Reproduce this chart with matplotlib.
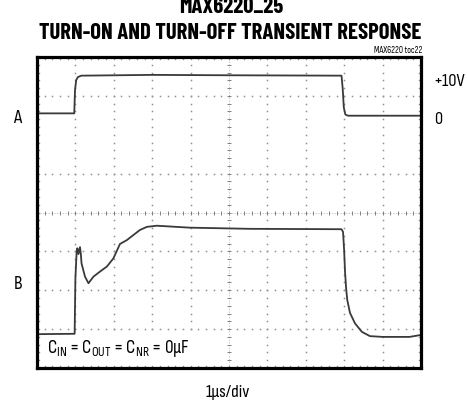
import numpy as np
import matplotlib
matplotlib.use("Agg")
import matplotlib.pyplot as plt
from matplotlib import font_manager
from matplotlib.font_manager import FontProperties
from matplotlib.textpath import TextPath

# ---- data (time in µs = divisions, level in screen divisions 0..8) ----
tA = [0.0, 0.97, 0.99, 1.02, 1.06, 1.15, 3.0, 5.0, 7.93, 7.96, 7.99, 8.03, 8.10, 10.0]
vA = [6.55, 6.55, 7.15, 7.40, 7.48, 7.52, 7.54, 7.53, 7.52, 7.20, 6.70, 6.52, 6.49, 6.49]

tB = [0.0, 0.98, 1.00, 1.03, 1.05, 1.08, 1.12, 1.14, 1.16, 1.25, 1.34, 1.47, 1.64,
      1.82, 1.99, 2.16, 2.34, 2.68, 2.86, 3.12, 3.98, 5.55, 7.93, 7.97, 8.00,
      8.02, 8.05, 8.08, 8.15, 8.28, 8.46, 8.67, 9.0, 9.7, 10.0]
vB = [0.87, 0.88, 2.30, 2.95, 3.08, 2.93, 3.11, 2.95, 2.69, 2.35, 2.18, 2.35, 2.48,
      2.61, 2.82, 3.19, 3.29, 3.55, 3.63, 3.66, 3.61, 3.58, 3.57, 3.50, 3.00,
      2.50, 2.05, 1.75, 1.42, 1.15, 0.93, 0.82, 0.80, 0.80, 0.85]

title_top = "MAX6220_25"
title = "TURN-ON AND TURN-OFF TRANSIENT RESPONSE"
toc = "MAX6220 toc22"
xlabel = "1µs/div"
trace_labels = ["A", "B"]
level_labels = ["+10V", "0"]
note = r"C$_\mathrm{IN}$ = C$_\mathrm{OUT}$ = C$_\mathrm{NR}$ = 0µF"
n_xdiv, n_ydiv = 10, 8
grid_rows = [1, 2, 3, 5, 7]          # row 6 not visible in the capture
grid_cols = [1, 2, 3, 4, 6, 7, 8, 9]

# ---- pick a condensed sans that matches the proportions ----
names = {f.name for f in font_manager.fontManager.ttflist}
cands = ["Roboto Condensed", "Archivo Narrow", "PT Sans Narrow", "Barlow Condensed",
         "Sofia Sans Condensed", "Saira SemiCondensed", "Encode Sans Condensed",
         "Oswald", "Fira Sans Condensed", "IBM Plex Sans Condensed",
         "Liberation Sans Narrow", "Roboto", "Liberation Sans"]
cands = [c for c in cands if c in names] or ["DejaVu Sans"]


def metr(fam, weight, s):
    fp = FontProperties(family=fam, weight=weight)
    cap = TextPath((0, 0), "H", size=100, prop=fp).get_extents().height / 100
    w = TextPath((0, 0), s, size=100, prop=fp).get_extents().width / 100
    return cap, w


def pick(weight, s, target):
    best, bd = cands[0], 1e9
    for c in cands:
        try:
            cap, w = metr(c, weight, s)
        except Exception:
            continue
        d = abs(w / cap - target)
        if d < bd:
            best, bd = c, d
    return best


TFAM = pick("bold", title, 382 / 16.5)
RFAM = pick("normal", "+10V", 30 / 12.0)
tcap, tw = metr(TFAM, "bold", title)
title_pt = 382 / tw * 72 / 100
rcap, _ = metr(RFAM, "normal", "H")


def pt_for_cap(px):
    return px / rcap * 72 / 100


plt.rcParams["mathtext.fontset"] = "custom"
plt.rcParams["mathtext.rm"] = RFAM
plt.rcParams["mathtext.it"] = RFAM
plt.rcParams["font.family"] = [RFAM, "DejaVu Sans"]

fig = plt.figure(figsize=(4.67, 4.04), dpi=100)
ax = fig.add_axes([37/467, 1-368/404, 384/467, 311/404])
ax.set_xlim(0, n_xdiv)
ax.set_ylim(0, n_ydiv)
ax.set_xticks([]); ax.set_yticks([])
for s in ax.spines.values():
    s.set_linewidth(2.3)
    s.set_color("black")
    s.set_zorder(5)

gcol = "#8f8f8f"
sub = np.arange(0, n_xdiv + 0.001, 0.2)
suby = np.arange(0, n_ydiv + 0.001, 0.2)
for gx in grid_cols:
    ax.plot(np.full_like(suby, gx), suby, ls="none", marker="s", ms=1.1, color=gcol, mew=0)
for gy in grid_rows:
    ax.plot(sub, np.full_like(sub, gy), ls="none", marker="s", ms=1.1, color=gcol, mew=0)
cx, cy = n_xdiv / 2, n_ydiv / 2
ax.plot([cx, cx], [0, n_ydiv], color="#b5b5b5", lw=0.5, ls=(0, (2, 2)))
ax.plot([0, n_xdiv], [cy, cy], color="#b5b5b5", lw=0.5, ls=(0, (2, 2)))
ax.plot(np.full_like(suby, cx), suby, ls="none", marker="_", ms=3, color="#808080", mew=0.7)
ax.plot(sub, np.full_like(sub, cy), ls="none", marker="|", ms=3, color="#808080", mew=0.7)
ax.plot(sub, np.full_like(sub, n_ydiv - 0.05), ls="none", marker="s", ms=1.0, color=gcol, mew=0)
ax.plot(sub, np.full_like(sub, 0.06), ls="none", marker="s", ms=1.0, color=gcol, mew=0)
ax.plot(np.full_like(suby, 0.04), suby, ls="none", marker="s", ms=1.0, color=gcol, mew=0)
ax.plot(np.full_like(suby, n_xdiv - 0.04), suby, ls="none", marker="s", ms=1.0, color=gcol, mew=0)

tc = "#3a3a3a"
ax.plot(tA, vA, color=tc, lw=1.3, solid_joinstyle="round", zorder=4)
ax.plot(tB, vB, color=tc, lw=1.3, solid_joinstyle="round", zorder=4)

ax.text(0.26, 0.38, note, fontsize=pt_for_cap(12.5), va="baseline", ha="left", zorder=6,
        bbox=dict(facecolor="white", edgecolor="none", pad=2.5))

fig.text(231/467, 1-13/404, title_top, family=TFAM, weight="bold", fontsize=title_pt,
         ha="center", va="baseline")
fig.text(230.5/467, 1-39.3/404, title, family=TFAM, weight="bold", fontsize=title_pt,
         ha="center", va="baseline")
fig.text(422/467, 1-53/404, toc, fontsize=pt_for_cap(6), ha="right", va="baseline")
fig.text(17/467, 1-123/404, trace_labels[0], fontsize=pt_for_cap(12.5), ha="center", va="baseline")
fig.text(18/467, 1-289/404, trace_labels[1], fontsize=pt_for_cap(12.5), ha="center", va="baseline")
fig.text(433/467, 1-86/404, level_labels[0], fontsize=pt_for_cap(12), ha="left", va="baseline")
fig.text(434/467, 1-124/404, level_labels[1], fontsize=pt_for_cap(12), ha="left", va="baseline")
fig.text(228/467, 1-397/404, xlabel, fontsize=pt_for_cap(12), ha="center", va="baseline")

fig.savefig("out.png", dpi=100)
